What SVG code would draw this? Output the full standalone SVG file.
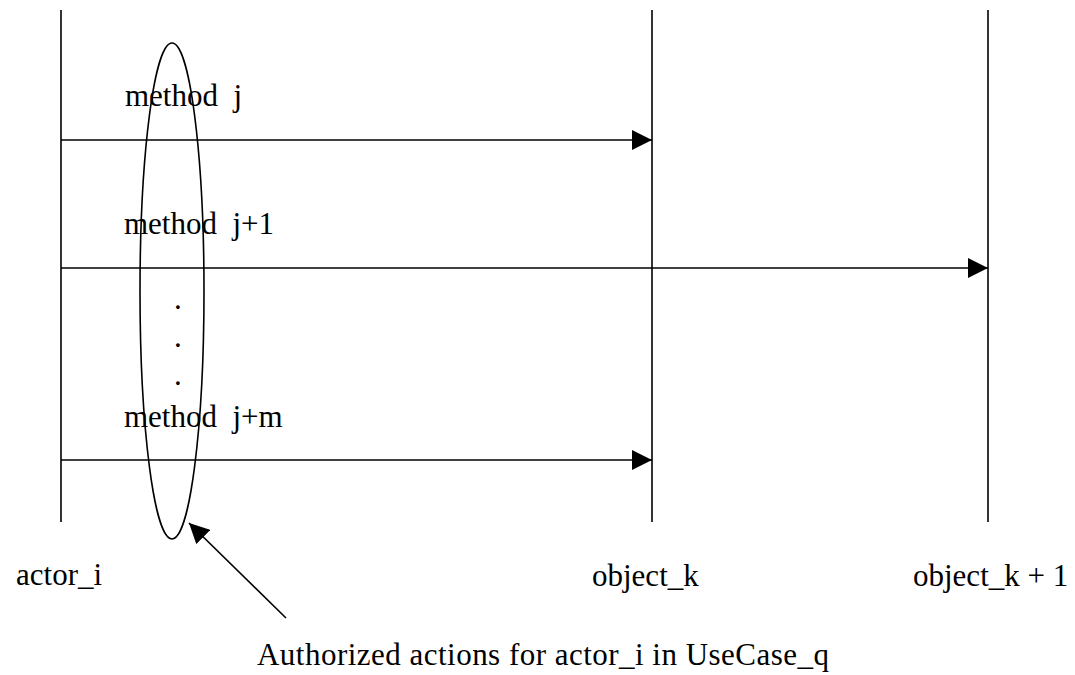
<svg xmlns="http://www.w3.org/2000/svg" width="1075" height="675" viewBox="0 0 1075 675">
  <style>
    .line { stroke: #000; stroke-width: 1.6; fill: none; }
    .lbl { font-family: "Liberation Serif", "Times New Roman", serif; font-size: 31px; fill: #000; }
  </style>
  <defs>
    <marker id="head" viewBox="0 0 20 20" refX="20" refY="10" markerWidth="20" markerHeight="20" markerUnits="userSpaceOnUse" orient="auto">
      <path d="M0,0 L20,10 L0,20 Z" fill="#000"/>
    </marker>
  </defs>

  <!-- lifelines -->
  <g id="actor_i">
    <line class="line" x1="61" y1="10" x2="61" y2="522"/>
    <text class="lbl" x="16" y="585">actor_i</text>
  </g>
  <g id="object_k">
    <line class="line" x1="652" y1="10" x2="652" y2="522"/>
    <text class="lbl" x="592" y="586">object_k</text>
  </g>
  <g id="object_k1">
    <line class="line" x1="988" y1="10" x2="988" y2="522"/>
    <text class="lbl" x="913" y="586">object_k + 1</text>
  </g>

  <!-- authorized actions group -->
  <g id="authorized">
    <ellipse class="line" cx="172" cy="291" rx="32" ry="248"/>
    <text class="lbl" x="257" y="665" textLength="572" lengthAdjust="spacing">Authorized actions for actor_i in UseCase_q</text>
  </g>

  <!-- messages -->
  <g id="connectors">
    <line class="line" x1="61" y1="140" x2="652" y2="140" marker-end="url(#head)"/>
    <line class="line" x1="61" y1="268" x2="988" y2="268" marker-end="url(#head)"/>
    <line class="line" x1="61" y1="460" x2="652" y2="460" marker-end="url(#head)"/>
    <line class="line" x1="286" y1="618" x2="189" y2="523" marker-end="url(#head)"/>
  </g>

  <g id="labels">
    <text class="lbl" x="125" y="106" xml:space="preserve">method  j</text>
    <text class="lbl" x="124" y="234" xml:space="preserve">method  j+1</text>
    <text class="lbl" x="124" y="427" xml:space="preserve">method  j+m</text>
    <text class="lbl" x="174" y="309">.</text>
    <text class="lbl" x="174" y="347">.</text>
    <text class="lbl" x="174" y="385">.</text>
  </g>
</svg>
